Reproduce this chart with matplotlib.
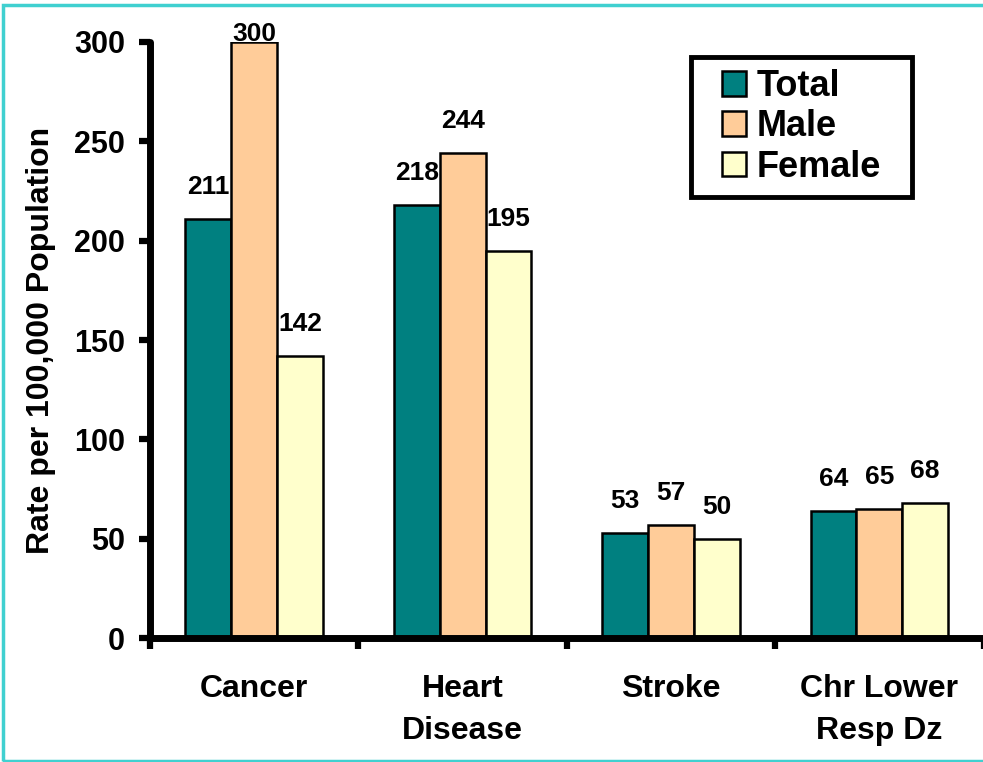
import matplotlib.pyplot as plt
import matplotlib.patches as mpatches
import numpy as np

plt.rcParams['font.family'] = ['Liberation Sans', 'DejaVu Sans']
plt.rcParams['font.weight'] = 'bold'

# data
causes = ['Cancer', 'Heart\nDisease', 'Stroke', 'Chr Lower\nResp Dz']
series = ['Total', 'Male', 'Female']
total = [211, 218, 53, 64]
male = [300, 244, 57, 65]
female = [142, 195, 50, 68]
colors = ['#008080', '#FFCC99', '#FFFFCC']

fig = plt.figure(figsize=(9.83, 7.62), dpi=100)
ax = fig.add_axes([0.1526, 0.1627, 0.848, 0.7822])

x = np.arange(len(causes))
w = 0.22
for i, (vals, name) in enumerate(zip([total, male, female], series)):
    pos = x + (i - 1) * w
    ax.bar(pos, vals, w, color=colors[i], edgecolor='black', linewidth=1.8,
           label=name, zorder=2)
    for p, v in zip(pos, vals):
        ax.text(p, min(v + 10, 298), str(v), ha='center', va='bottom',
                fontsize=19, fontweight='bold', zorder=3)

ax.set_xlim(-0.5, 3.5)
ax.set_ylim(0, 300)
ax.set_yticks([0, 50, 100, 150, 200, 250, 300])
ax.tick_params(axis='y', labelsize=22, width=4.5, length=8, pad=10)
ax.set_xticks(x)
ax.set_xticklabels(causes, fontsize=23, fontweight='bold', linespacing=1.5)
ax.tick_params(axis='x', which='major', length=0, pad=26)
ax.set_xticks(np.arange(-0.5, 4, 1), minor=True)
ax.tick_params(axis='x', which='minor', width=4.5, length=8)

for lab in ax.get_yticklabels():
    lab.set_fontweight('bold')

for s in ['top', 'right']:
    ax.spines[s].set_visible(False)
for s in ['left', 'bottom']:
    ax.spines[s].set_linewidth(5)
    ax.spines[s].set_capstyle('round')

ax.set_ylabel('Rate per 100,000 Population', fontsize=23, fontweight='bold',
              labelpad=13)

leg = ax.legend(loc='upper right', bbox_to_anchor=(0.888, 0.97), fontsize=26,
                frameon=True, fancybox=False, edgecolor='black', framealpha=1,
                handlelength=0.67, handleheight=0.67, handletextpad=0.3,
                labelspacing=0.15, borderpad=0.25, borderaxespad=0)
frame = leg.get_frame()
frame.set_linewidth(3.5)
# wider side padding than top/bottom padding
frame.set_boxstyle('square', pad=0.6)
frame.set_mutation_aspect(0.15)
for t in leg.get_texts():
    t.set_fontweight('bold')

# cyan frame around the slide
fig.patches.append(mpatches.Rectangle((0.003, 0.001), 1.2, 0.992,
                                      transform=fig.transFigure, fill=False,
                                      edgecolor='#40D0D0', linewidth=2.5))

fig.savefig('out.png', dpi=100)
